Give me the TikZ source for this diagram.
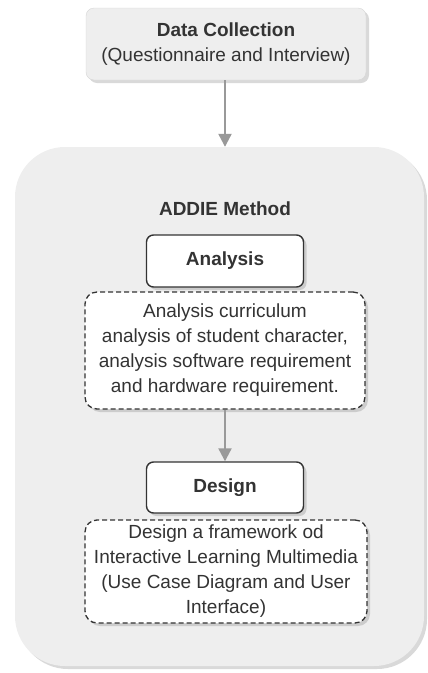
\documentclass[tikz,border=0pt]{standalone}
\usepackage{fontspec}
\setmainfont{Liberation Sans}
\usetikzlibrary{shapes.geometric, arrows.meta, shadows, positioning}

\definecolor{boxgray}{HTML}{EEEEEE}
\definecolor{arrowgray}{HTML}{999999}
\definecolor{textgray}{HTML}{333333}

\tikzset{
  softshadow/.style={drop shadow={opacity=0.3, shadow xshift=3pt, shadow yshift=-3pt}},
  topbox/.style={rectangle, rounded corners=8pt, fill=boxgray, draw=boxgray!90!black, line width=0.4pt,
    softshadow, minimum width=280pt, minimum height=72pt, inner sep=0pt, align=center, text=textgray},
  stepbox/.style={rectangle, rounded corners=7pt, fill=white, draw=textgray, line width=1.4pt,
    softshadow, minimum width=157pt, minimum height=52pt, inner sep=0pt, text=textgray},
  notebox/.style={rectangle, rounded corners=12pt, fill=white, draw=textgray, dash pattern=on 5pt off 3pt,
    line width=1.3pt, softshadow, minimum width=280pt, inner sep=0pt, align=center, text=textgray},
  flowarrow/.style={draw=arrowgray, line width=2.2pt, -{Triangle[width=13pt, length=13pt]}},
}

\begin{document}
\begin{tikzpicture}[x=1pt, y=-1pt, font=\fontsize{19}{25}\selectfont]
				\useasboundingbox (0,0) rectangle (428,673);
				% Container of the method
				\node[rectangle, rounded corners=50pt, fill=boxgray, draw=none, softshadow,
				  minimum width=409pt, minimum height=519pt, inner sep=0pt] (addie) at (219.5,406.5) {};
				\node[text=textgray, font=\fontsize{19}{25}\selectfont\bfseries] (addietitle) at (225,209) {ADDIE Method};
				% Data collection
				\node[topbox] (data) at (226,44) {\textbf{Data Collection}\\(Questionnaire and Interview)};
				% Analysis step
				\node[stepbox] (analysis) at (225,261) {\textbf{Analysis}};
				\node[notebox, minimum height=117pt] (analysisnote) at (225,350.5)
				  {Analysis curriculum\\analysis of student character,\\analysis software requirement\\and hardware requirement.};
				% Design step
				\node[stepbox, minimum height=51pt] (design) at (225,487.5) {\textbf{Design}};
				\node[notebox, minimum width=282pt, minimum height=103pt] (designnote) at (226,571.5)
				  {Design a framework od\\Interactive Learning Multimedia\\(Use Case Diagram and User\\Interface)};
				% Arrows
				\draw[flowarrow] (data.south -| addietitle) -- (addie.north -| addietitle);
				\draw[flowarrow] (analysisnote) -- (design);
			\end{tikzpicture}
\end{document}
